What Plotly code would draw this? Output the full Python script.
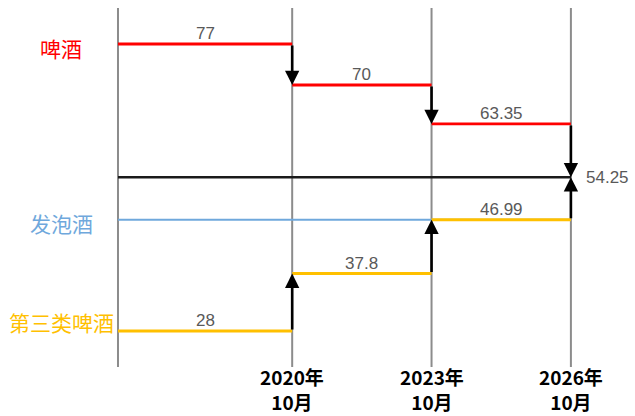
import plotly.graph_objects as go

# Tax-rate periods (start of chart and the three revision dates)
period_bounds = [2017.0, 2020.75, 2023.75, 2026.75]
tick_labels = ["2020年<br>10月", "2023年<br>10月", "2026年<br>10月"]

# Tax amounts per period
beer = [77, 70, 63.35]
third_beer = [28, 37.8, 46.99]
happoshu = 46.99
unified = 54.25

series_names = ["啤酒", "发泡酒", "第三类啤酒"]
series_colors = ["#ff0000", "#6fa8dc", "#ffc000"]

fig = go.Figure()


def step_segments(bounds, values):
    xs, ys = [], []
    for i, v in enumerate(values):
        xs += [bounds[i], bounds[i + 1], None]
        ys += [v, v, None]
    return xs, ys


# Unified level line
fig.add_trace(go.Scatter(x=[period_bounds[0], period_bounds[-1]], y=[unified, unified],
                         mode="lines", line=dict(color="#1a1a1a", width=2.5),
                         hoverinfo="skip"))
# Happoshu (flat)
fig.add_trace(go.Scatter(x=[period_bounds[0], period_bounds[-1]], y=[happoshu, happoshu],
                         mode="lines", line=dict(color=series_colors[1], width=2),
                         hoverinfo="skip"))
# Beer steps
bx, by = step_segments(period_bounds, beer)
fig.add_trace(go.Scatter(x=bx, y=by, mode="lines",
                         line=dict(color=series_colors[0], width=2.8), hoverinfo="skip"))
# Third-category beer steps
tx, ty = step_segments(period_bounds, third_beer)
fig.add_trace(go.Scatter(x=tx, y=ty, mode="lines",
                         line=dict(color=series_colors[2], width=3), hoverinfo="skip"))

# Vertical period lines
shapes = []
for xb in period_bounds:
    shapes.append(dict(type="line", xref="x", yref="paper", x0=xb, x1=xb,
                       y0=0.118, y1=0.981, line=dict(color="#8c8c8c", width=2),
                       layer="below"))

annotations = []

# Arrows between consecutive levels
beer_targets = beer[1:] + [unified]
third_targets = third_beer[1:] + [unified]
for i, xb in enumerate(period_bounds[1:]):
    for v_from, v_to in ((beer[i], beer_targets[i]), (third_beer[i], third_targets[i])):
        annotations.append(dict(x=xb, y=v_to, ax=xb, ay=v_from, axref="x", ayref="y",
                                xref="x", yref="y", text="", showarrow=True,
                                arrowhead=2, arrowsize=1.1, arrowwidth=2.6,
                                arrowcolor="#000000", standoff=0, startstandoff=0))

# Value labels above each segment
label_font = dict(family="Liberation Sans, Arial", size=17, color="#595959")
for values in (beer, third_beer):
    for i, v in enumerate(values):
        annotations.append(dict(x=(period_bounds[i] + period_bounds[i + 1]) / 2, y=v,
                                xref="x", yref="y", text=f"{v:g}", showarrow=False,
                                yanchor="bottom", yshift=-1, font=label_font))
annotations.append(dict(x=period_bounds[-1], y=unified, xref="x", yref="y",
                        text=f"{unified:g}", showarrow=False, xanchor="left",
                        xshift=13, font=label_font))

# Series names on the left
name_font = "Noto Sans CJK SC"
name_levels = [beer[0], happoshu, third_beer[0]]
name_shifts = [-4, -3, 9]
for name, color, lvl, sh in zip(series_names, series_colors, name_levels, name_shifts):
    annotations.append(dict(x=61 / 635, y=lvl, xref="paper", yref="y", text=name,
                            showarrow=False, yshift=sh, xanchor="center",
                            font=dict(family=name_font, size=21, color=color)))

# Date labels under the revision lines
date_font = dict(family="Noto Sans CJK JP", size=19, color="#000000")
for xb, lab in zip(period_bounds[1:], tick_labels):
    annotations.append(dict(x=xb, y=0, xref="x", yref="paper",
                            text=f"<b>{lab}</b>", showarrow=False, yanchor="bottom",
                            borderpad=0, font=date_font))

fig.update_layout(
    width=635, height=416,
    margin=dict(l=0, r=0, t=0, b=0),
    paper_bgcolor="white", plot_bgcolor="white",
    showlegend=False,
    xaxis=dict(range=[2014.46, 2028.13], visible=False, fixedrange=True),
    yaxis=dict(range=[13.49, 84.51], visible=False, fixedrange=True),
    shapes=shapes,
    annotations=annotations,
)

fig.write_html("out.html")
